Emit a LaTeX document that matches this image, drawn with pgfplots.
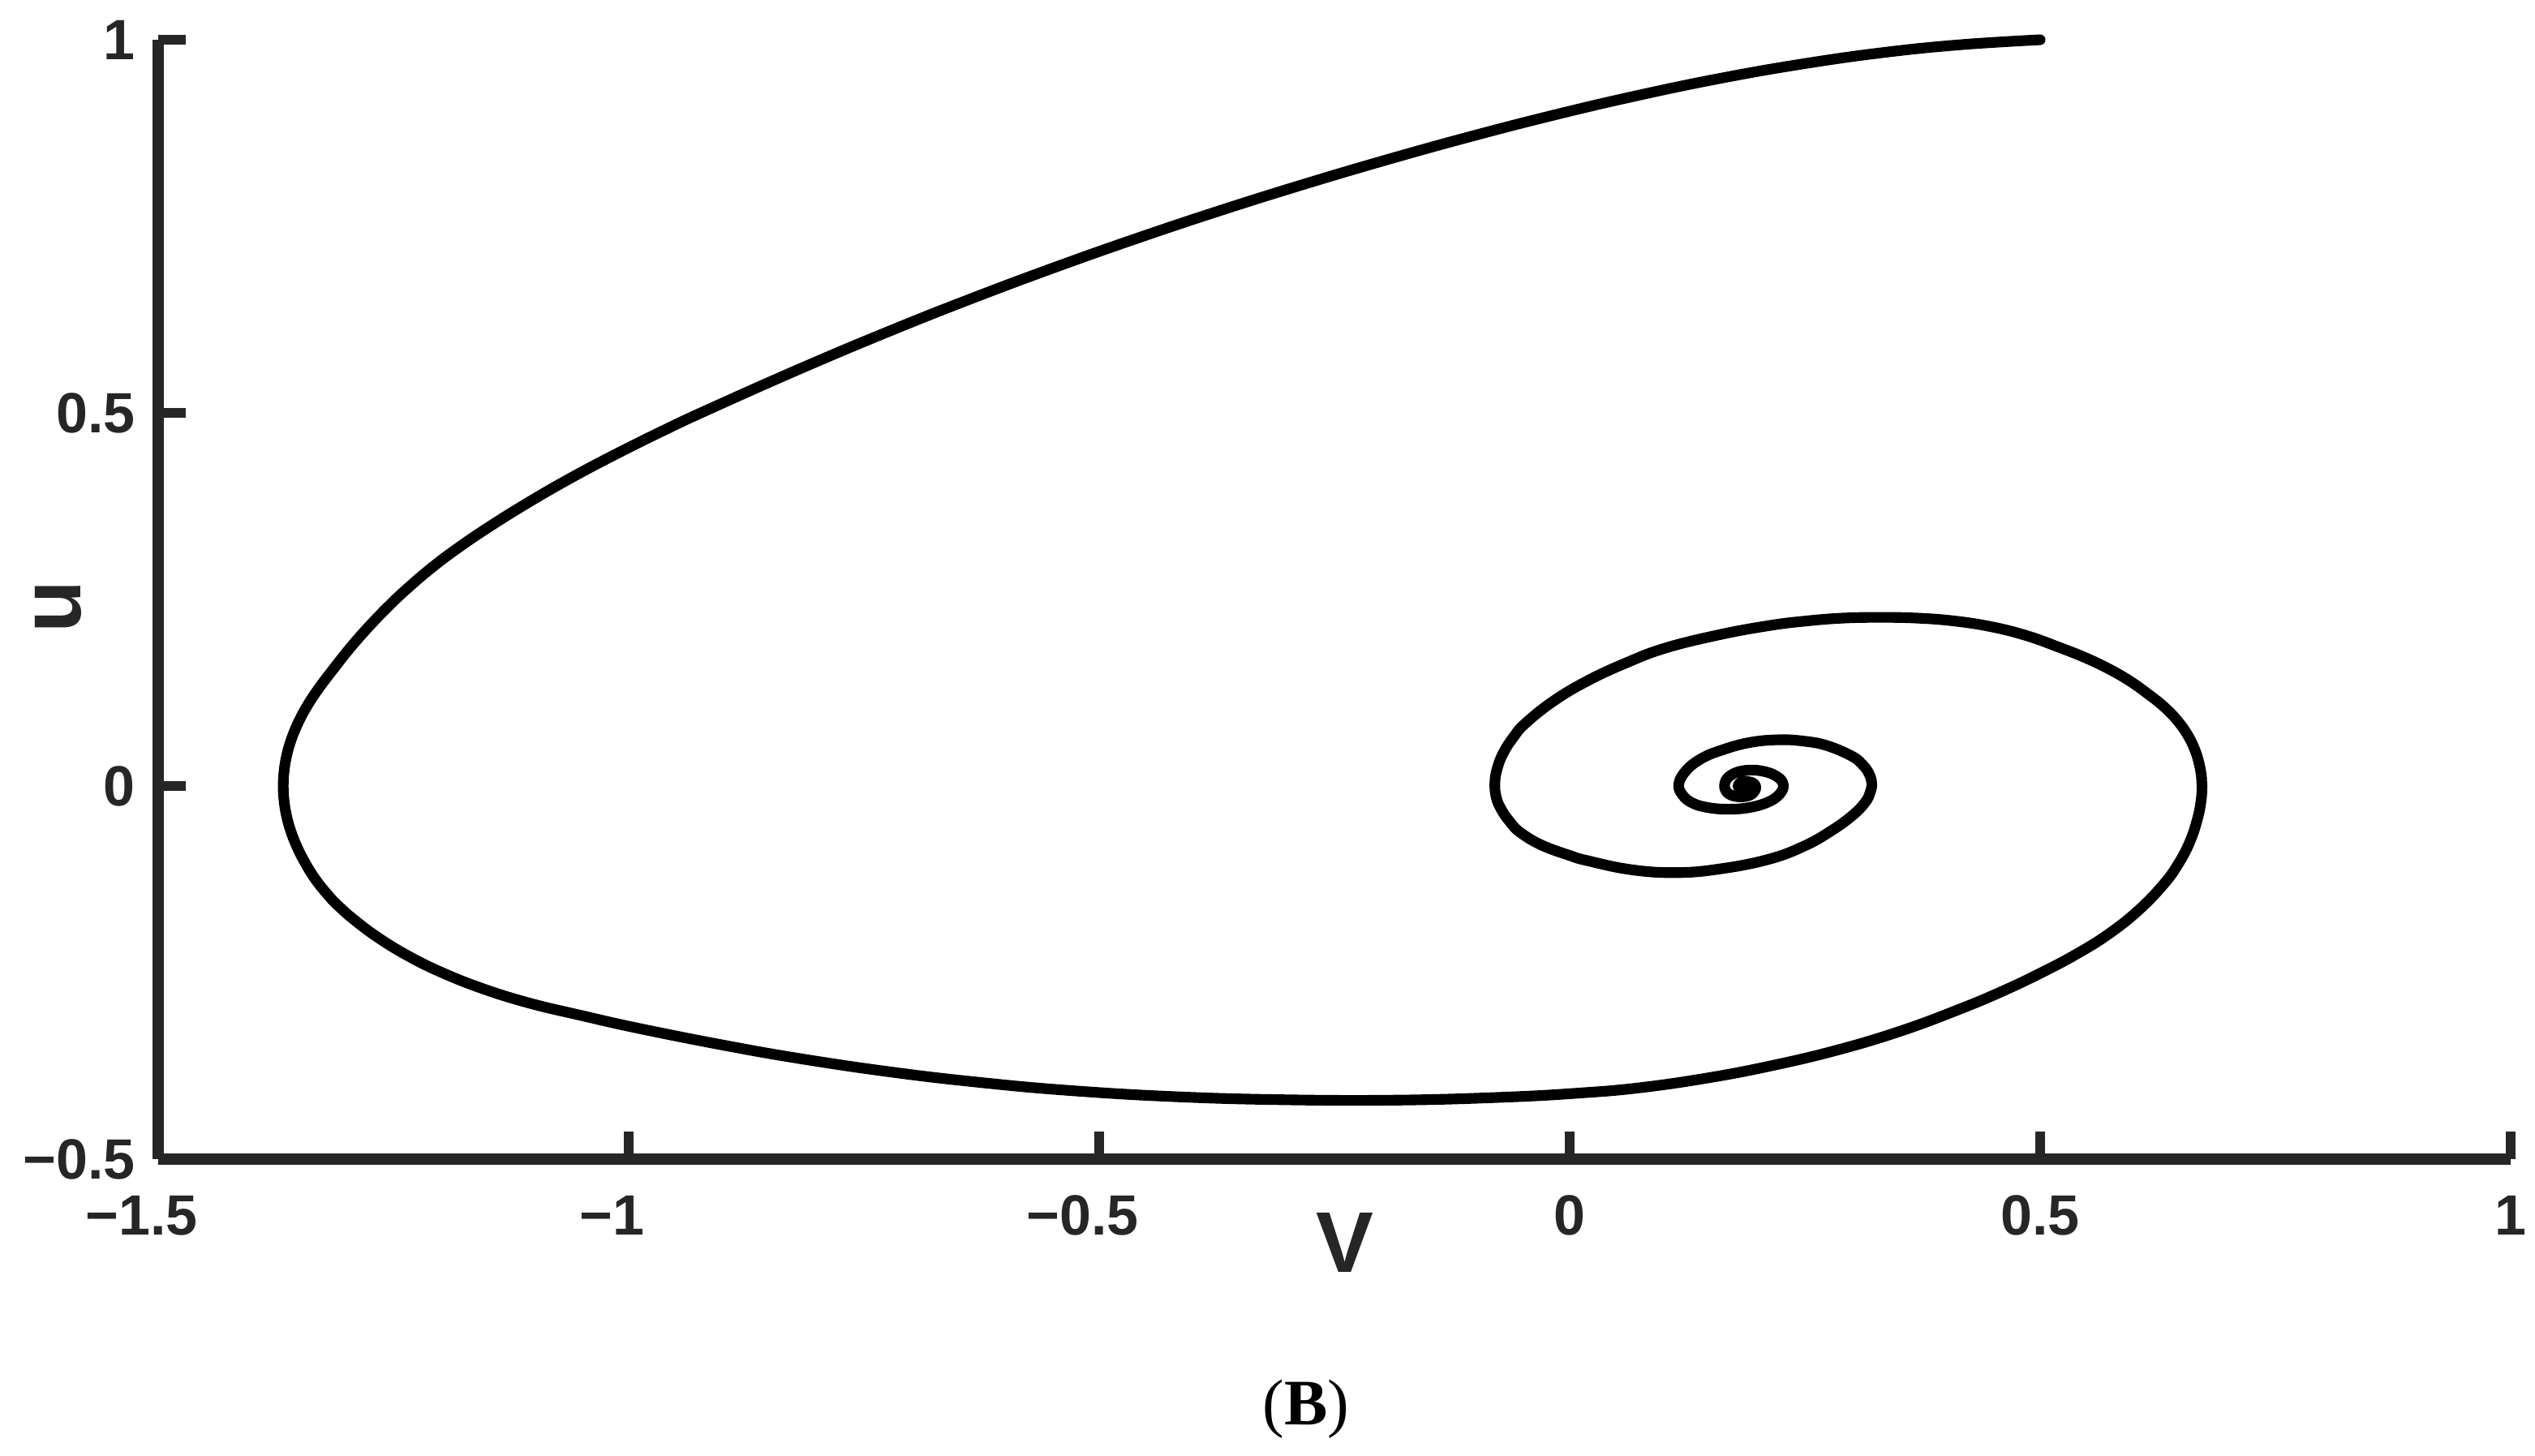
\documentclass[border=0pt]{standalone}
\usepackage{pgfplots}
\pgfplotsset{compat=1.18}
\usepackage{fontspec}
\setmainfont{Liberation Sans}
\newfontfamily\capserif{Liberation Serif}
\definecolor{axcol}{HTML}{262626}
\begin{document}
\begin{tikzpicture}
\begin{axis}[
  scale only axis=true,
  width=464pt, height=220.8pt,
  xmin=-1.5, xmax=1, ymin=-0.5, ymax=1,
  axis x line=bottom, axis y line=left,
  axis line style={line width=2.3pt, color=axcol, -},
  tick style={line width=2pt, color=axcol},
  tick align=inside,
  major tick length=5.4pt,
  xtick={-1.5,-1,-0.5,0,0.5,1},
  xticklabels={\llap{−}1.5,\llap{−}1,\llap{−}0.5,0,0.5,1},
  ytick={-0.5,0,0.5,1},
  yticklabels={−0.5,0,0.5,1},
  tick label style={font=\bfseries\fontsize{11.2}{13}\selectfont, text=axcol, inner sep=0pt},
  xticklabel style={anchor=base, yshift=-15pt},
  yticklabel style={anchor=east, xshift=-4.3pt},
  xlabel={V},
  ylabel={u},
  label style={font=\bfseries\fontsize{17}{20}\selectfont, text=axcol, inner sep=0pt},
  xlabel style={at={(axis description cs:0.5045,0)}, anchor=center, yshift=-16.5pt},
  ylabel style={at={(axis description cs:0,0.4935)}, anchor=center, yshift=19.7pt},
  clip=false,
]
\addplot[black, line width=2.1pt, line join=round, line cap=round, smooth, tension=0.7] coordinates {
(0.500,1.000) (0.417,0.9935) (0.334,0.983) (0.246,0.9673) (0.158,0.9478)
(0.070,0.9247) (-0.018,0.8987) (-0.106,0.8701) (-0.194,0.8393) (-0.282,0.8065)
(-0.370,0.7717) (-0.458,0.7347) (-0.546,0.6955) (-0.634,0.654) (-0.722,0.610)
(-0.817,0.5596) (-0.915,0.5047) (-0.961,0.4776) (-1.015,0.4438) (-1.065,0.4103)
(-1.110,0.3774) (-1.151,0.345) (-1.183,0.3175) (-1.209,0.2928) (-1.234,0.266)
(-1.254,0.2424) (-1.275,0.2151) (-1.295,0.1865) (-1.313,0.158) (-1.3298,0.130)
(-1.3427,0.105) (-1.3522,0.082) (-1.3591,0.060) (-1.3635,0.040) (-1.3661,0.020)
(-1.367,0.000) (-1.3661,-0.020) (-1.3635,-0.040) (-1.3591,-0.060) (-1.3529,-0.080)
(-1.345,-0.100) (-1.3328,-0.125) (-1.3167,-0.150) (-1.3055,-0.164) (-1.2928,-0.178)
(-1.2686,-0.201) (-1.2366,-0.226) (-1.200,-0.249) (-1.155,-0.2715) (-1.105,-0.291)
(-1.050,-0.3075) (-0.990,-0.3245) (-0.900,-0.347) (-0.817,-0.3654) (-0.721,-0.3832)
(-0.630,-0.3967) (-0.534,-0.4077) (-0.420,-0.4162) (-0.301,-0.4204) (-0.180,-0.4208)
(-0.067,-0.4168) (0.010,-0.4114) (0.073,-0.4045) (0.145,-0.3915) (0.214,-0.3749)
(0.285,-0.3536) (0.353,-0.3278) (0.415,-0.2987) (0.460,-0.2749) (0.502,-0.2497)
(0.540,-0.2242) (0.573,-0.1981) (0.604,-0.1671) (0.631,-0.132) (0.647,-0.104)
(0.659,-0.075) (0.667,-0.045) (0.671,-0.020) (0.672,0.000) (0.6715,0.012)
(0.669,0.030) (0.664,0.050) (0.656,0.070) (0.645,0.089) (0.631,0.107)
(0.614,0.124) (0.595,0.141) (0.573,0.157) (0.548,0.172) (0.520,0.186)
(0.487,0.201) (0.450,0.213) (0.410,0.221) (0.370,0.225) (0.330,0.226)
(0.290,0.225) (0.250,0.221) (0.212,0.215) (0.160,0.203) (0.102,0.185)
(0.060,0.165) (0.019,0.141) (-0.017,0.114) (-0.047,0.084) (-0.060,0.065)
(-0.0702,0.045) (-0.0766,0.025) (-0.0794,0.005) (-0.078,-0.015) (-0.0723,-0.032)
(-0.0634,-0.048) (-0.0526,-0.062) (-0.030,-0.079) (0.000,-0.093) (0.019,-0.100)
(0.065,-0.112) (0.113,-0.116) (0.160,-0.111) (0.212,-0.098) (0.250,-0.080)
(0.278,-0.060) (0.300,-0.040) (0.314,-0.022) (0.3195,-0.008) (0.321,0.004)
(0.318,0.017) (0.311,0.029) (0.300,0.040) (0.274,0.054) (0.250,0.060)
(0.222,0.062) (0.190,0.058) (0.159,0.047) (0.139,0.036) (0.124,0.021)
(0.116,0.003) (0.120,-0.012) (0.131,-0.023) (0.148,-0.029) (0.168,-0.031)
(0.190,-0.029) (0.210,-0.022) (0.223,-0.011) (0.227,0.002) (0.220,0.013)
(0.205,0.020) (0.187,0.021) (0.172,0.015) (0.165,0.004) (0.167,-0.008)
(0.177,-0.014) (0.190,-0.013) (0.197,-0.006) (0.197,0.002) (0.190,0.006)
(0.182,0.005) (0.179,0.000) (0.182,-0.004) (0.186,-0.003) (0.185,0.000)
};
\node[font=\capserif\fontsize{12.8}{15}\selectfont, inner sep=0pt] at (axis description cs:0.488,-0.223) {(\textbf{B})};
\coordinate (BL) at (axis cs:-1.668,-0.8967);
\coordinate (TR) at (axis cs:1.0259,1.0533);
\end{axis}
\pgfresetboundingbox
\path[use as bounding box] (BL) rectangle (TR);
\end{tikzpicture}
\end{document}
